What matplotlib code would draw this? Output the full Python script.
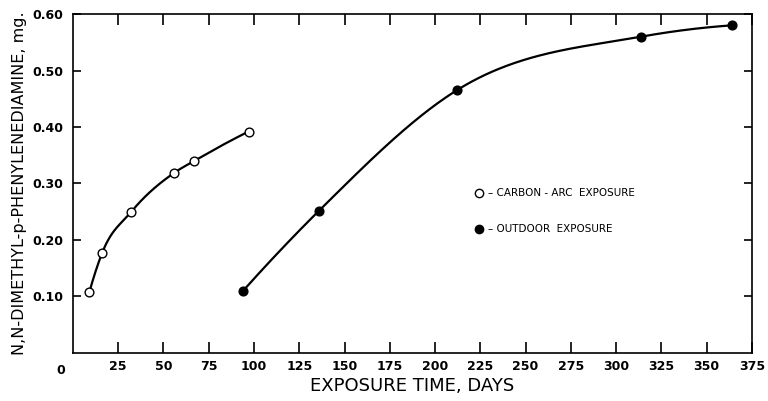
import numpy as np
import matplotlib
matplotlib.use("Agg")
from matplotlib import pyplot as plt

# values
arc_days = [9, 16, 32, 56, 67, 97]
arc_mg = [0.107, 0.176, 0.249, 0.319, 0.340, 0.392]

out_days = [94, 136, 212, 314, 364]
out_mg = [0.110, 0.252, 0.465, 0.560, 0.580]

xticks = [25, 50, 75, 100, 125, 150, 175, 200, 225, 250, 275, 300, 325, 350, 375]
yticks = [0.10, 0.20, 0.30, 0.40, 0.50, 0.60]


def smooth(x, y, n=300):
    """Cubic Hermite curve through the points, slopes from 3-point parabolas"""
    x = np.asarray(x, float)
    y = np.asarray(y, float)
    h = np.diff(x)
    d = np.diff(y) / h
    m = np.zeros_like(x)
    for k in range(1, len(x) - 1):
        m[k] = (h[k] * d[k - 1] + h[k - 1] * d[k]) / (h[k - 1] + h[k])
    m[0] = 2 * d[0] - m[1]
    m[-1] = max(2 * d[-1] - m[-2], 0)
    xs = np.linspace(x[0], x[-1], n)
    idx = np.clip(np.searchsorted(x, xs) - 1, 0, len(x) - 2)
    t = (xs - x[idx]) / h[idx]
    h00 = 2 * t**3 - 3 * t**2 + 1
    h10 = t**3 - 2 * t**2 + t
    h01 = -2 * t**3 + 3 * t**2
    h11 = t**3 - t**2
    ys = h00 * y[idx] + h10 * h[idx] * m[idx] + h01 * y[idx + 1] + h11 * h[idx] * m[idx + 1]
    return xs, ys


fig = plt.figure(figsize=(7.68, 4.01), dpi=100)
ax = fig.add_axes([0.095, 0.120, 0.884, 0.845])

# curves
xs, ys = smooth(arc_days, arc_mg)
ax.plot(xs, ys, color="black", lw=1.6, zorder=2)
xs, ys = smooth(out_days, out_mg)
ax.plot(xs, ys, color="black", lw=1.6, zorder=2)

# points
ax.plot(arc_days, arc_mg, "o", ms=6.3, mfc="white", mec="black", mew=1.0, zorder=3)
ax.plot(out_days, out_mg, "o", ms=6.3, mfc="black", mec="black", zorder=3)

ax.set_xlim(0, 375)
ax.set_ylim(0, 0.60)
ax.set_xticks(xticks)
ax.set_xticklabels([str(v) for v in xticks], fontweight="bold", fontsize=9)
ax.set_yticks(yticks)
ax.set_yticklabels(["%.2f" % v for v in yticks], fontweight="bold", fontsize=9)
ax.tick_params(direction="in", width=1.2, top=True, right=True)
ax.tick_params(axis="x", length=8, pad=5)
ax.tick_params(axis="y", length=6, pad=7)
for s in ax.spines.values():
    s.set_linewidth(1.2)

# origin label sits left of the corner
ax.text(-7, -0.019, "0", ha="center", va="top", fontsize=9, fontweight="bold",
        transform=ax.transData)

ax.set_xlabel("EXPOSURE TIME, DAYS", fontsize=13, labelpad=3)
ax.set_ylabel("N,N-DIMETHYL-p-PHENYLENEDIAMINE, mg.", fontsize=11.5, labelpad=4)

# key drawn inside the plot
ax.plot([0.598], [0.472], "o", ms=6, mfc="white", mec="black", transform=ax.transAxes)
ax.text(0.612, 0.472, "– CARBON - ARC  EXPOSURE", fontsize=7.5, va="center",
        transform=ax.transAxes)
ax.plot([0.598], [0.366], "o", ms=6, mfc="black", mec="black", transform=ax.transAxes)
ax.text(0.612, 0.366, "– OUTDOOR  EXPOSURE", fontsize=7.5, va="center",
        transform=ax.transAxes)

fig.savefig("out.png", dpi=100)
